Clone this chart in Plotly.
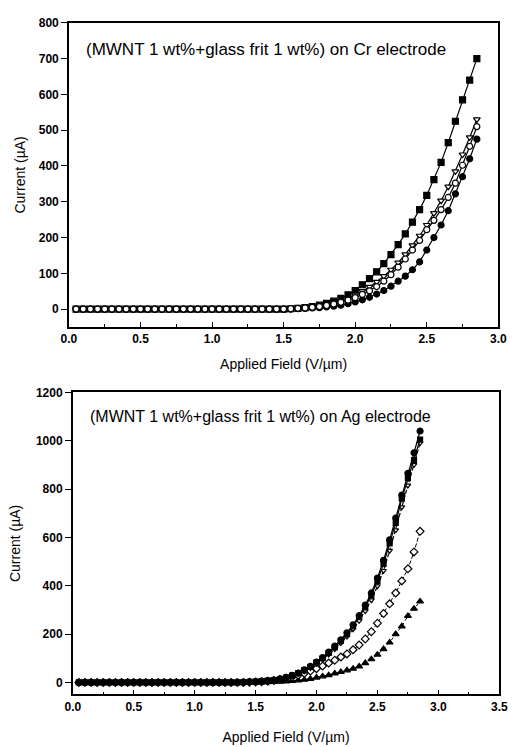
import plotly.graph_objects as go

# Applied field grid (V/um)
field = [0.05, 0.10, 0.15, 0.20, 0.25, 0.30, 0.35, 0.40, 0.45, 0.50,
         0.55, 0.60, 0.65, 0.70, 0.75, 0.80, 0.85, 0.90, 0.95, 1.00,
         1.05, 1.10, 1.15, 1.20, 1.25, 1.30, 1.35, 1.40, 1.45, 1.50,
         1.55, 1.60, 1.65, 1.70, 1.75, 1.80, 1.85, 1.90, 1.95, 2.00,
         2.05, 2.10, 2.15, 2.20, 2.25, 2.30, 2.35, 2.40, 2.45, 2.50,
         2.55, 2.60, 2.65, 2.70, 2.75, 2.80, 2.85]

# ---- Cr electrode (top panel), current in uA ----
cr_square = [0]*30 + [1, 2, 4, 7, 11, 16, 22, 30, 40, 52, 68, 85, 104, 127, 152, 180,
                      210, 243, 278, 318, 362, 410, 465, 525, 585, 640, 700]
cr_tri_down = [0]*30 + [1, 2, 4, 6, 9, 13, 18, 24, 31, 40, 50, 62, 76, 92, 110, 130,
                        153, 178, 205, 235, 268, 303, 342, 385, 432, 480, 530]
cr_circle = [0]*31 + [1, 2, 3, 4, 6, 8, 11, 15, 20, 26, 33, 42, 52, 64, 78, 92,
                      110, 132, 165, 200, 235, 275, 322, 370, 420, 475]
cr_diamond = [0]*30 + [1, 2, 3, 5, 7, 10, 14, 19, 25, 32, 41, 51, 63, 78, 96, 117,
                       140, 165, 192, 222, 248, 278, 312, 352, 402, 455, 510]

# ---- Ag electrode (bottom panel), current in uA ----
ag_circle = [0]*27 + [1, 2, 3, 5, 7, 10, 15, 21, 29, 39, 52, 66, 84, 103, 125, 150,
                      176, 205, 238, 276, 320, 370, 432, 505, 590, 680, 775, 865, 950, 1040]
ag_square = [0]*27 + [1, 2, 3, 5, 7, 10, 14, 20, 28, 38, 50, 64, 82, 100, 122, 145,
                      172, 200, 232, 270, 312, 360, 420, 490, 575, 660, 760, 845, 920, 1005]
ag_tri_down = [0]*27 + [1, 1, 2, 4, 6, 9, 13, 18, 26, 35, 46, 60, 77, 95, 115, 138,
                        163, 190, 220, 255, 295, 340, 398, 462, 545, 630, 725, 815, 900, 990]
ag_diamond = [0]*28 + [1, 2, 3, 5, 8, 12, 17, 23, 30, 38, 47, 57, 68, 80, 92, 105,
                       118, 135, 155, 180, 210, 245, 285, 325, 370, 420, 470, 540, 625]
ag_tri_up = [0]*31 + [1, 2, 3, 4, 6, 8, 11, 15, 20, 25, 30, 37, 43, 50, 57, 66,
                      80, 96, 115, 138, 165, 200, 232, 275, 305, 335]

top_ticks = [0.0, 0.5, 1.0, 1.5, 2.0, 2.5, 3.0]
bot_ticks = [0.0, 0.5, 1.0, 1.5, 2.0, 2.5, 3.0, 3.5]

W, H = 517, 747
FONT = "Liberation Sans, Arial, sans-serif"

fig = go.Figure()

def add(x, y, symbol, filled, axes, dash="solid", size=6, lw=1.2):
    xa, ya = axes
    fig.add_trace(go.Scatter(
        x=x, y=y, mode="lines+markers", xaxis=xa, yaxis=ya, showlegend=False,
        line=dict(color="black", width=lw, dash=dash),
        marker=dict(symbol=symbol, size=size,
                    color="black" if filled else "white",
                    line=dict(color="black", width=1.2)),
    ))

top = ("x", "y")
bot = ("x2", "y2")
add(field, cr_square, "square", True, top, size=6)
add(field, cr_circle, "circle", True, top, size=6)
add(field, cr_tri_down, "triangle-down", False, top, size=6)
add(field, cr_diamond, "circle", False, top, size=6)

add(field, ag_tri_up, "triangle-up", True, bot, dash="dot", size=6, lw=1)
add(field, ag_diamond, "diamond", False, bot, dash="4px,2px", size=6, lw=1)
add(field, ag_tri_down, "triangle-down", False, bot, dash="4px,2px", size=5)
add(field, ag_square, "square", True, bot, size=5)
add(field, ag_circle, "circle", True, bot, size=6)

ax_common = dict(showline=True, linecolor="black", linewidth=1.5, mirror=True,
                 showgrid=False, zeroline=False, color="black",
                 tickfont=dict(family=FONT, size=12, color="black", weight="bold"))

def px_x(p):
    return p / W

def px_y(p):
    return 1 - p / H

TITLE_FONT = dict(family=FONT, size=14, color="black")

fig.update_layout(
    width=W, height=H, paper_bgcolor="white", plot_bgcolor="white",
    margin=dict(l=0, r=0, t=0, b=0), autosize=False,
    font=dict(family=FONT, color="black"),
    xaxis=dict(domain=[px_x(63), px_x(507)], range=[0, 3.0], anchor="y",
               tickvals=top_ticks, ticktext=[f"{v:.1f}" for v in top_ticks],
               ticks="inside", ticklen=5,
               minor=dict(ticks="inside", ticklen=3, dtick=0.25, tick0=0),
               title=dict(text="Applied Field (V/\u00b5m)", font=TITLE_FONT, standoff=14),
               **ax_common),
    yaxis=dict(domain=[px_y(323), px_y(16)], range=[-50, 800], anchor="x",
               tickvals=[0, 100, 200, 300, 400, 500, 600, 700, 800],
               ticks="outside", ticklen=6,
               title=dict(text="Current (\u00b5A)", font=TITLE_FONT, standoff=10),
               **ax_common),
    xaxis2=dict(domain=[px_x(67), px_x(508)], range=[0, 3.5], anchor="y2",
                tickvals=bot_ticks, ticktext=[f"{v:.1f}" for v in bot_ticks],
                ticks="inside", ticklen=5,
                minor=dict(ticks="inside", ticklen=3, dtick=0.25, tick0=0),
                title=dict(text="Applied Field (V/\u00b5m)", font=TITLE_FONT, standoff=20),
                **ax_common),
    yaxis2=dict(domain=[px_y(694), px_y(389)], range=[-50, 1200], anchor="x2",
                tickvals=[0, 200, 400, 600, 800, 1000, 1200],
                ticks="outside", ticklen=6,
                title=dict(text="Current (\u00b5A)", font=TITLE_FONT, standoff=12),
                **ax_common),
    annotations=[
        dict(text="(MWNT 1 wt%+glass frit 1 wt%) on Cr electrode", xref="paper", yref="paper",
             x=px_x(79), y=px_y(43), xanchor="left", yanchor="middle", showarrow=False,
             font=dict(family=FONT, size=17, color="black")),
        dict(text="(MWNT 1 wt%+glass frit 1 wt%) on Ag electrode", xref="paper", yref="paper",
             x=px_x(83), y=px_y(413), xanchor="left", yanchor="middle", showarrow=False,
             font=dict(family=FONT, size=16, color="black")),
    ],
)

fig.write_html("out.html")
